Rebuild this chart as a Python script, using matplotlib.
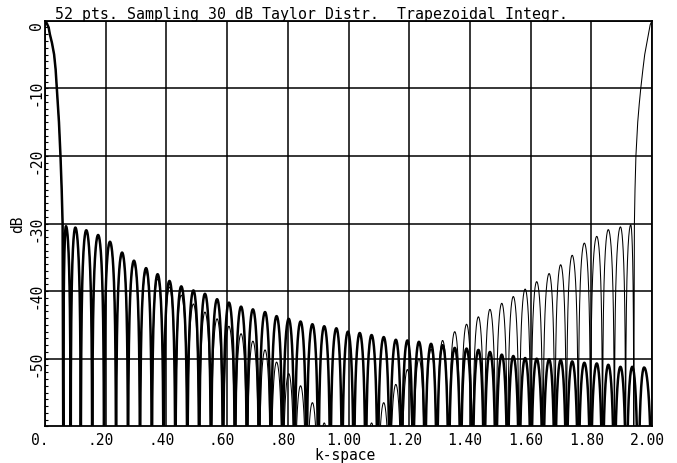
import numpy as np
import matplotlib
matplotlib.use("Agg")
import matplotlib.pyplot as plt
from matplotlib.ticker import MultipleLocator
from matplotlib.transforms import ScaledTranslation

# ---------------- data ----------------
title = "52 pts. Sampling 30 dB Taylor Distr.  Trapezoidal Integr."
x_label = "k-space"
y_label = "dB"
x_ticks = [0.0, 0.2, 0.4, 0.6, 0.8, 1.0, 1.2, 1.4, 1.6, 1.8, 2.0]
x_tick_labels = ["0.", ".20", ".40", ".60", ".80", "1.00", "1.20", "1.40", "1.60", "1.80", "2.00"]
y_ticks = [0, -10, -20, -30, -40, -50]
y_tick_labels = ["0", "-10", "-20", "-30", "-40", "-50"]

# main lobe of the continuous (thick) pattern
main_lobe_k = [0.0, 0.006, 0.012, 0.016, 0.023, 0.030, 0.035, 0.039, 0.046, 0.051,
               0.055, 0.058, 0.060]
main_lobe_db = [0, -0.4, -1.0, -2.0, -3.3, -5.0, -7.2, -10, -15, -20, -25, -30, -60]

# sidelobe peaks of the continuous (thick) pattern
continuous_k = [0.069, 0.100, 0.136, 0.175, 0.214, 0.254, 0.293, 0.333, 0.371, 0.410,
                0.449, 0.489, 0.527, 0.567, 0.606, 0.646, 0.685, 0.725, 0.763, 0.803,
                0.842, 0.881, 0.920, 0.960, 0.998, 1.037, 1.076, 1.116, 1.156, 1.194,
                1.232, 1.272, 1.310, 1.350, 1.389, 1.428, 1.466, 1.505, 1.543, 1.582,
                1.620, 1.661, 1.699, 1.737, 1.777, 1.818, 1.856, 1.896, 1.935, 1.974]
continuous_db = [-30.4, -30.6, -31.0, -31.7, -32.7, -34.3, -35.5, -36.6, -37.5, -38.5,
                 -39.3, -39.9, -40.4, -41.2, -41.7, -42.3, -42.7, -43.1, -43.7, -44.1,
                 -44.5, -44.9, -45.2, -45.5, -46.0, -46.2, -46.5, -46.8, -47.2, -47.3,
                 -47.5, -47.8, -48.0, -48.4, -48.5, -48.7, -49.0, -49.4, -49.6, -49.9,
                 -50.0, -50.1, -50.2, -50.4, -50.6, -50.7, -50.9, -51.2, -51.2, -51.3]

# sidelobe peaks of the sampled (thin) pattern
sampled_k = [0.069, 0.100, 0.136, 0.175, 0.214, 0.254, 0.293, 0.333, 0.371, 0.410,
             0.449, 0.489, 0.527, 0.567, 0.606, 0.646, 0.685, 0.725, 0.763, 0.803,
             0.842, 0.881, 0.920, 0.960, 0.998, 1.037, 1.076, 1.116, 1.156, 1.194,
             1.232, 1.272, 1.310, 1.350, 1.389, 1.428, 1.466, 1.505, 1.543, 1.582,
             1.620, 1.661, 1.699, 1.737, 1.777, 1.818, 1.856, 1.896, 1.930]
sampled_db = [-30.4, -30.6, -31.0, -31.8, -32.9, -34.6, -35.9, -37.1, -38.2, -39.4,
              -40.6, -41.9, -43.1, -44.1, -45.2, -46.3, -47.4, -48.7, -50.5, -52.2,
              -54.0, -56.5, -59.5, -63.0, -66.0, -63.0, -59.5, -56.5, -53.8, -51.6,
              -50.0, -48.6, -47.3, -46.0, -44.9, -43.8, -42.7, -41.8, -40.8, -39.7,
              -38.6, -37.4, -36.1, -34.7, -32.9, -31.9, -30.9, -30.5, -30.2]

# grating lobe of the sampled pattern
grating_lobe_k = [1.940, 1.942, 1.944, 1.947, 1.953, 1.958, 1.963, 1.970, 1.976, 1.983,
                  1.988, 1.994, 2.0]
grating_lobe_db = [-60, -30, -25, -20, -15, -12.3, -10, -7.2, -5, -3.3, -2, -0.6, 0]


def sidelobe_trace(peaks_k, peaks_db, first_null, last_null, n=40):
    """Draw each sidelobe as an arch between the nulls that surround its peak."""
    pk = np.asarray(peaks_k, float)
    pdb = np.asarray(peaks_db, float)
    nulls = np.concatenate([[first_null], (pk[:-1] + pk[1:]) / 2, [last_null]])
    t = np.linspace(0.0, 1.0, n)
    ks, ds = [], []
    for i in range(len(pk)):
        a, p, b = nulls[i], pk[i], nulls[i + 1]
        kk = np.concatenate([a + (p - a) * t, p + (b - p) * t[1:]])
        amp = np.concatenate([np.sin(np.pi / 2 * t), np.cos(np.pi / 2 * t[1:])])
        ks.append(kk)
        ds.append(pdb[i] + 20 * np.log10(np.maximum(amp, 1e-5)))
    return np.concatenate(ks), np.concatenate(ds)


# ---------------- figure ----------------
W, H = 677, 464
fig = plt.figure(figsize=(W / 100, H / 100), dpi=100)
ax = fig.add_axes([45 / W, 1 - 427.3 / H, 607 / W, 405.6 / H])

mono = "DejaVu Sans Mono"

# continuous (thick)
ck, cd = sidelobe_trace(continuous_k, continuous_db, main_lobe_k[-1], 2.0)
thick_k = np.concatenate([main_lobe_k, ck])
thick_d = np.concatenate([main_lobe_db, cd])
ax.plot(thick_k, thick_d, color="black", lw=1.8, solid_joinstyle="round", zorder=3)

# sampled (thin)
sk, sd = sidelobe_trace(sampled_k, sampled_db, main_lobe_k[-1], grating_lobe_k[0])
thin_k = np.concatenate([main_lobe_k, sk, grating_lobe_k])
thin_d = np.concatenate([main_lobe_db, sd, grating_lobe_db])
ax.plot(thin_k, thin_d, color="black", lw=0.75, zorder=4)

ax.set_xlim(0, 2.0)
ax.set_ylim(-60, 0)

ax.set_xticks(x_ticks)
ax.set_xticklabels(x_tick_labels, family=mono, fontsize=10.5)
ax.set_yticks(y_ticks)
ax.set_yticklabels(y_tick_labels, family=mono, fontsize=10.5, rotation=90, va="center")
ax.yaxis.set_minor_locator(MultipleLocator(1))

ax.tick_params(axis="x", which="both", length=0, pad=4)
ax.tick_params(axis="y", which="both", direction="in", length=2.5, width=0.8,
               pad=1, left=True, right=False)

ax.grid(True, which="major", color="black", lw=1.1)
for s in ax.spines.values():
    s.set_linewidth(1.3)

# small offsets of the tick labels as in the plotter output
for lab in ax.get_xticklabels():
    lab.set_transform(lab.get_transform() + ScaledTranslation(-0.05, 0, fig.dpi_scale_trans))
for lab in ax.get_yticklabels():
    lab.set_transform(lab.get_transform() + ScaledTranslation(0, -0.04, fig.dpi_scale_trans))

ax.set_title(title, loc="left", x=(55 - 45) / 607, pad=2, family=mono, fontsize=10.7)
ax.set_xlabel(x_label, family=mono, fontsize=10.5)
ax.xaxis.set_label_coords(0.494, -0.051)
ax.set_ylabel(y_label, family=mono, fontsize=10.5)
ax.yaxis.set_label_coords(-0.033, 0.5)

fig.savefig("out.png", dpi=100)
